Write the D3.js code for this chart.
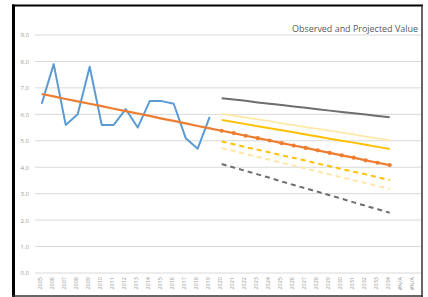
<!DOCTYPE html>
<meta charset="utf-8">
<html lang="en"></html>
<style>
  body { margin: 0; background: #fff; }
  svg { display: block; }
</style>
<script src="https://d3js.org/d3.v7.min.js"></script>
<div id="chart"></div>
<script>
    // categories: observed years, projection years, then the #N/A rows
    const years = ["2005","2006","2007","2008","2009","2010","2011","2012","2013","2014",
        "2015","2016","2017","2018","2019","2020","2021","2022","2023","2024","2025",
        "2026","2027","2028","2029","2030","2031","2032","2033","2034","#N/A","#N/A","#N/A"];
    const yTicks = [0, 1, 2, 3, 4, 5, 6, 7, 8, 9];

    // observed values 2005-2019
    const observed = [6.4, 7.9, 5.6, 6.0, 7.8, 5.6, 5.6, 6.2, 5.5, 6.5, 6.5, 6.4, 5.1, 4.7, 5.9];
    // linear trend 2005-2034
    const trend = [6.77, 6.68, 6.58, 6.49, 6.40, 6.31, 6.21, 6.12, 6.03, 5.94, 5.84, 5.75, 5.66, 5.56, 5.47,
        5.38, 5.29, 5.19, 5.10, 5.01, 4.91, 4.82, 4.73, 4.64, 4.54, 4.45, 4.36, 4.26, 4.17, 4.08];
    // projections 2020-2034
    const grayHigh = [6.61, 6.56, 6.51, 6.45, 6.40, 6.35, 6.30, 6.25, 6.19, 6.14, 6.09, 6.04, 5.99, 5.94, 5.89];
    const paleHigh = [6.02, 5.95, 5.88, 5.81, 5.74, 5.66, 5.59, 5.52, 5.45, 5.38, 5.31, 5.24, 5.16, 5.09, 5.02];
    const goldHigh = [5.79, 5.71, 5.63, 5.55, 5.47, 5.40, 5.32, 5.24, 5.16, 5.08, 5.00, 4.93, 4.85, 4.77, 4.69];
    const goldLow = [4.97, 4.87, 4.76, 4.66, 4.56, 4.45, 4.35, 4.25, 4.14, 4.04, 3.93, 3.83, 3.73, 3.62, 3.52];
    const paleLow = [4.72, 4.61, 4.50, 4.39, 4.28, 4.17, 4.06, 3.95, 3.84, 3.73, 3.62, 3.51, 3.40, 3.29, 3.18];
    const grayLow = [4.12, 3.99, 3.86, 3.73, 3.60, 3.46, 3.33, 3.20, 3.07, 2.94, 2.81, 2.67, 2.54, 2.41, 2.28];

    const W = 428, H = 297;
    const font = "'Open Sans', 'Liberation Sans', sans-serif";

    const svg = d3.select("#chart").append("svg")
        .attr("width", W)
        .attr("height", H);

    // the chart is cut off by the frame on the right
    svg.append("clipPath").attr("id", "frame")
        .append("rect").attr("x", 14).attr("y", 6).attr("width", 407).attr("height", 289);

    const g = svg.append("g").attr("clip-path", "url(#frame)");

    const x = d3.scaleBand()
        .domain(d3.range(years.length))
        .range([35.7, 35.7 + 12 * years.length]);
    const cx = function(i) { return x(i) + x.bandwidth() / 2; };

    const y = d3.scaleLinear()
        .domain([0, 9])
        .range([273, 35]);

    // gridlines
    g.selectAll(".grid")
        .data(yTicks)
        .enter()
        .append("line")
            .attr("x1", 35)
            .attr("x2", 440)
            .attr("y1", function(d) { return y(d); })
            .attr("y2", function(d) { return y(d); })
            .attr("stroke", "#d9d9d9")
            .attr("stroke-width", 1);

    // y axis labels
    g.append("g")
        .attr("transform", "translate(35,0)")
        .call(d3.axisLeft(y).tickValues(yTicks).tickFormat(d3.format(".1f")).tickSize(0).tickPadding(6))
        .call(function(a) { a.select(".domain").remove(); })
        .selectAll("text")
            .attr("font-family", font)
            .attr("font-size", "6px")
            .attr("fill", "#999");

    // x axis labels, rotated
    g.append("g")
        .attr("transform", "translate(0,273)")
        .call(d3.axisBottom(x).tickFormat(function(i) { return years[i]; }).tickSize(0))
        .call(function(a) { a.select(".domain").remove(); })
        .selectAll("text")
            .attr("font-family", font)
            .attr("font-size", "5.5px")
            .attr("fill", "#999")
            .attr("transform", "translate(-2,4) rotate(-90)")
            .attr("text-anchor", "end")
            .attr("dy", "0.35em")
            .attr("x", 0)
            .attr("y", 0);

    const line = d3.line()
        .x(function(d) { return cx(d.i); })
        .y(function(d) { return y(d.v); });

    function series(values, offset) {
        return values.map(function(v, k) { return {i: k + offset, v: v}; });
    }

    function drawLine(values, offset, color, width, dash) {
        g.append("path")
            .datum(series(values, offset))
            .attr("d", line)
            .attr("fill", "none")
            .attr("stroke", color)
            .attr("stroke-width", width)
            .attr("stroke-dasharray", dash || null)
            .attr("stroke-linejoin", "round");
    }

    // projections
    drawLine(grayHigh, 15, "#6e6e6e", 2);
    drawLine(paleHigh, 15, "#ffe9a8", 1.8);
    drawLine(goldHigh, 15, "#ffc000", 2);
    drawLine(goldLow, 15, "#ffc000", 2, "5,4");
    drawLine(paleLow, 15, "#ffe6a6", 2, "5,4");
    drawLine(grayLow, 15, "#6e6e6e", 2, "5,4");

    // observed
    drawLine(observed, 0, "#5b9bd5", 2);

    // trend with markers on projection years
    drawLine(trend, 0, "#ed7d31", 2.2);
    g.selectAll(".mk")
        .data(series(trend, 0).filter(function(d) { return d.i >= 15; }))
        .enter()
        .append("circle")
            .attr("cx", function(d) { return cx(d.i); })
            .attr("cy", function(d) { return y(d.v); })
            .attr("r", 2.1)
            .attr("fill", "#ed7d31");

    // title (only the visible part before the frame)
    svg.append("text")
        .text("Observed and Projected Value")
        .attr("x", 292)
        .attr("y", 32)
        .attr("textLength", 126)
        .attr("lengthAdjust", "spacingAndGlyphs")
        .attr("font-family", font)
        .attr("font-size", "9.5px")
        .attr("fill", "#595959");

    // frame
    svg.append("line").attr("x1", 13.5).attr("x2", 13.5).attr("y1", 4.5).attr("y2", 297)
        .attr("stroke", "#000").attr("stroke-width", 3);
    svg.append("line").attr("x1", 12).attr("x2", 423).attr("y1", 5.5).attr("y2", 5.5)
        .attr("stroke", "#000").attr("stroke-width", 2);
    svg.append("line").attr("x1", 422).attr("x2", 422).attr("y1", 4.5).attr("y2", 297)
        .attr("stroke", "#333").attr("stroke-width", 1.5);
    svg.append("line").attr("x1", 12).attr("x2", 423).attr("y1", 296).attr("y2", 296)
        .attr("stroke", "#333").attr("stroke-width", 1.5);
</script>
